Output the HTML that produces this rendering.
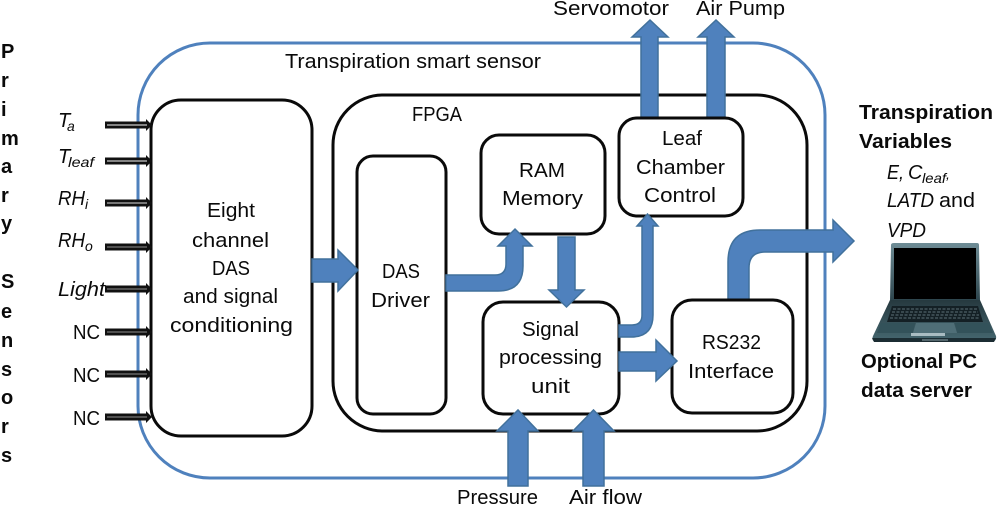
<!DOCTYPE html>
<html>
<head>
<meta charset="utf-8">
<style>
html,body{margin:0;padding:0;background:#fff;width:1000px;height:505px;overflow:hidden}
svg{display:block}
text{font-family:"Liberation Sans",sans-serif;font-size:20px;fill:#0a0a0a}
.b{font-weight:bold}
.i{font-style:italic}
.s{font-size:14px;font-style:italic}
.box{fill:#fff;stroke:#0a0a0a;stroke-width:3}
.ar{fill:#4f81bd;stroke:#41719c;stroke-width:1.5}
</style>
</head>
<body>
<svg width="1000" height="505" viewBox="0 0 1000 505" xmlns="http://www.w3.org/2000/svg">
<defs>
<linearGradient id="lid" x1="0" y1="0" x2="0" y2="1"><stop offset="0" stop-color="#6f8d96"/><stop offset="1" stop-color="#2c444c"/></linearGradient>
<linearGradient id="base" x1="0" y1="0" x2="0" y2="1"><stop offset="0" stop-color="#26393f"/><stop offset="1" stop-color="#466871"/></linearGradient>
</defs>

<rect x="138" y="43" width="687" height="435" rx="72" ry="72" fill="#fff" stroke="#4f81bd" stroke-width="3"/>
<rect class="box" x="333" y="95" width="474" height="336" rx="50" ry="50" style="fill:none"/>

<!-- arrows through borders -->
<path class="ar" d="M641,118V37H632L650,20L668,37H658V118Z"/>
<path class="ar" d="M707,118V37H698L716,20L734,37H725V118Z"/>
<path class="ar" d="M728,300V262Q728,230 760,230H833V220L854,241L833,262V252H765Q749,252 749,268V300Z"/>

<!-- boxes -->
<rect class="box" x="151" y="100" width="161" height="336" rx="30" ry="30"/>
<rect class="box" x="357" y="156" width="89" height="258" rx="16" ry="16"/>
<rect class="box" x="481" y="135" width="124" height="99" rx="18" ry="18"/>
<rect class="box" x="619" y="118" width="124" height="98" rx="18" ry="18"/>
<rect class="box" x="483" y="302" width="136" height="112" rx="20" ry="20"/>
<rect class="box" x="672" y="300" width="121" height="113" rx="20" ry="20"/>

<!-- inner arrows -->
<path class="ar" d="M312,259H338V250L358,270L338,291V282H312Z"/>
<path class="ar" d="M446,275H495Q506,275 506,264V246H498L515,229L532,246H523V266Q523,291 498,291H446Z"/>
<path class="ar" d="M558,237H575V290H584L566.500,307L549,290H558Z"/>
<path class="ar" d="M619,325H632Q642,325 642,315V226H637L647.500,214L658,226H653V315Q653,337 631,337H619Z"/>
<path class="ar" d="M619,352H656V340L677,361L656,381V371H619Z"/>
<path class="ar" d="M508,486V431H497L518,410L538,431H528V486Z"/>
<path class="ar" d="M583,486V431H573L593.500,410L614,431H604V486Z"/>

<!-- sensor inputs -->
<g fill="#111">
<path d="M105,121.500H146V119L152,125L146,131V128.500H105Z"/><path d="M107,124.200H147V125.800H107Z" fill="#aaa"/>
<path d="M105,157.500H146V155L152,161L146,167V164.500H105Z"/><path d="M107,160.200H147V161.800H107Z" fill="#aaa"/>
<path d="M105,199.500H146V197L152,203L146,209V206.500H105Z"/><path d="M107,202.200H147V203.800H107Z" fill="#999"/>
<path d="M105,243.500H146V241L152,247L146,253V250.500H105Z"/><path d="M107,246.200H147V247.800H107Z" fill="#666"/>
<path d="M105,285.500H146V283L152,289L146,295V292.500H105Z"/><path d="M107,288.200H147V289.800H107Z" fill="#666"/>
<path d="M105,328.500H146V326L152,332L146,338V335.500H105Z"/><path d="M107,331.200H147V332.800H107Z" fill="#666"/>
<path d="M105,370.500H146V368L152,374L146,380V377.500H105Z"/><path d="M107,373.200H147V374.800H107Z" fill="#666"/>
<path d="M105,413.500H146V411L152,417L146,423V420.500H105Z"/><path d="M107,416.200H147V417.800H107Z" fill="#666"/>
</g>

<!-- laptop -->
<path d="M891,245Q891,243 894,243H977Q979,243 979,245L980,301H890Z" fill="url(#lid)"/>
<rect x="894" y="248" width="82" height="51" fill="#000"/>
<path d="M890,300H980L996,336Q997,341 992,342H876Q871,341 873,336Z" fill="url(#base)"/>
<path d="M892,306H978L983,322H887Z" fill="#142025"/>
<path d="M893,309H977M892,312H978M891,315H979M890,318H980" stroke="#5c7178" stroke-width="1" stroke-dasharray="3 1.500" fill="none"/>
<path d="M881,323H915L913,333H877Z M955,323H989L993,333H957Z" fill="#33525a"/>
<path d="M916,323H954L957,333H913Z" fill="#4f6e77"/>
<path d="M911,333H945V336H911Z" fill="#a9bcc2"/>
<path d="M872,338H996L994,342H874Z" fill="#1b2c32"/>
<path d="M922,340H948" stroke="#8ba0a6" stroke-width="1"/>

<!-- main labels -->
<text x="285" y="68" textLength="256" lengthAdjust="spacingAndGlyphs">Transpiration smart sensor</text>
<text x="412" y="121" textLength="50" lengthAdjust="spacingAndGlyphs">FPGA</text>
<text x="207" y="217" textLength="48" lengthAdjust="spacingAndGlyphs">Eight</text>
<text x="192" y="247" textLength="77" lengthAdjust="spacingAndGlyphs">channel</text>
<text x="212" y="275" textLength="38" lengthAdjust="spacingAndGlyphs">DAS</text>
<text x="183" y="303" textLength="95" lengthAdjust="spacingAndGlyphs">and signal</text>
<text x="170" y="332" textLength="123" lengthAdjust="spacingAndGlyphs">conditioning</text>
<text x="382" y="278" textLength="38" lengthAdjust="spacingAndGlyphs">DAS</text>
<text x="371" y="307" textLength="59" lengthAdjust="spacingAndGlyphs">Driver</text>
<text x="519" y="177" textLength="46" lengthAdjust="spacingAndGlyphs">RAM</text>
<text x="502" y="205" textLength="81" lengthAdjust="spacingAndGlyphs">Memory</text>
<text x="662" y="145" textLength="40" lengthAdjust="spacingAndGlyphs">Leaf</text>
<text x="636" y="174" textLength="89" lengthAdjust="spacingAndGlyphs">Chamber</text>
<text x="644" y="202" textLength="72" lengthAdjust="spacingAndGlyphs">Control</text>
<text x="522" y="336" textLength="57" lengthAdjust="spacingAndGlyphs">Signal</text>
<text x="499" y="364" textLength="103" lengthAdjust="spacingAndGlyphs">processing</text>
<text x="531" y="393" textLength="39" lengthAdjust="spacingAndGlyphs">unit</text>
<text x="702" y="349" textLength="59" lengthAdjust="spacingAndGlyphs">RS232</text>
<text x="688" y="378" textLength="86" lengthAdjust="spacingAndGlyphs">Interface</text>
<text x="553" y="15" textLength="116" lengthAdjust="spacingAndGlyphs">Servomotor</text>
<text x="696" y="15" textLength="89" lengthAdjust="spacingAndGlyphs">Air Pump</text>
<text x="457" y="504" textLength="81" lengthAdjust="spacingAndGlyphs">Pressure</text>
<text x="569" y="504" textLength="73" lengthAdjust="spacingAndGlyphs">Air flow</text>

<!-- sensor labels -->
<text class="i" x="58" y="127">T</text><text class="s" x="67" y="131">a</text>
<text class="i" x="58" y="163">T</text><text class="s" x="68" y="167" textLength="26" lengthAdjust="spacingAndGlyphs">leaf</text>
<text class="i" x="58" y="205" textLength="27" lengthAdjust="spacingAndGlyphs">RH</text><text class="s" x="85" y="209">i</text>
<text class="i" x="58" y="247" textLength="27" lengthAdjust="spacingAndGlyphs">RH</text><text class="s" x="85" y="251">o</text>
<text class="i" x="58" y="296" textLength="47" lengthAdjust="spacingAndGlyphs">Light</text>
<text x="73" y="339" textLength="27" lengthAdjust="spacingAndGlyphs">NC</text>
<text x="73" y="382" textLength="27" lengthAdjust="spacingAndGlyphs">NC</text>
<text x="73" y="425" textLength="27" lengthAdjust="spacingAndGlyphs">NC</text>

<!-- vertical label -->
<text class="b" x="1" y="58">P</text>
<text class="b" x="1" y="87">r</text>
<text class="b" x="1" y="116">i</text>
<text class="b" x="1" y="145">m</text>
<text class="b" x="1" y="173">a</text>
<text class="b" x="1" y="202">r</text>
<text class="b" x="1" y="230">y</text>
<text class="b" x="1" y="288">S</text>
<text class="b" x="1" y="318">e</text>
<text class="b" x="1" y="347">n</text>
<text class="b" x="1" y="376">s</text>
<text class="b" x="1" y="404">o</text>
<text class="b" x="1" y="433">r</text>
<text class="b" x="1" y="462">s</text>

<!-- right labels -->
<text class="b" x="859" y="119" textLength="134" lengthAdjust="spacingAndGlyphs">Transpiration</text>
<text class="b" x="859" y="148" textLength="93" lengthAdjust="spacingAndGlyphs">Variables</text>
<text class="i" x="887" y="179" textLength="17" lengthAdjust="spacingAndGlyphs">E,</text>
<text class="i" x="908" y="179">C</text><text class="s" x="922" y="183" textLength="24" lengthAdjust="spacingAndGlyphs">leaf</text><text class="i" x="946" y="179" style="font-size:14px">,</text>
<text class="i" x="887" y="207" textLength="47" lengthAdjust="spacingAndGlyphs">LATD</text>
<text x="939" y="207" textLength="36" lengthAdjust="spacingAndGlyphs">and</text>
<text class="i" x="887" y="237" textLength="39" lengthAdjust="spacingAndGlyphs">VPD</text>
<text class="b" x="861" y="368" textLength="116" lengthAdjust="spacingAndGlyphs">Optional PC</text>
<text class="b" x="861" y="397" textLength="111" lengthAdjust="spacingAndGlyphs">data server</text>
</svg>
</body>
</html>
